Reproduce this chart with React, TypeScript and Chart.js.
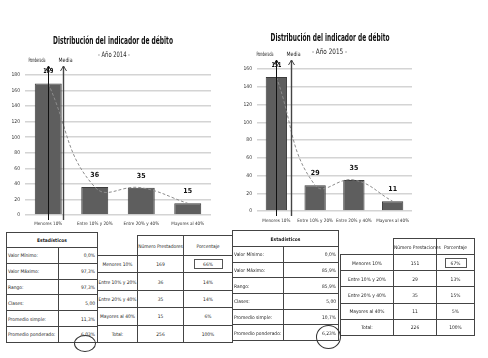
import React, { useEffect, useRef } from "react";
import { Chart, registerables } from "chart.js";

Chart.register(...registerables);

// ---------- data ----------
const categories = ["Menores 10%", "Entre 10% y 20%", "Entre 20% y 40%", "Mayores al 40%"];
const values2014 = [169, 36, 35, 15];
const values2015 = [151, 29, 35, 11];
const yMax2014 = 180;
const yMax2015 = 160;
const yStep = 20;
const chartTitle = "Distribución del indicador de débito";
const subtitle2014 = "- Año 2014 -";
const subtitle2015 = "- Año 2015 -";
const markerLabels = ["Ponderada", "Media"];
// marker positions in category-index units (0 = centre of first category)
const markers2014 = [0, 0.32];
const markers2015 = [0, 0.38];

const statsHeader = "Estadísticos";
const statLabels = ["Valor Mínimo:", "Valor Máximo:", "Rango:", "Clases:", "Promedio simple:", "Promedio ponderado:"];
const stats2014 = ["0,0%", "97,3%", "97,3%", "5,00", "11,3%", "6,03%"];
const stats2015 = ["0,0%", "85,9%", "85,9%", "5,00", "10,7%", "6,23%"];
const countHeader2014 = "Número Prestadores";
const countHeader2015 = "Número Prestaciones";
const percentHeader = "Porcentaje";
const percent2014 = ["66%", "14%", "14%", "6%"];
const percent2015 = ["67%", "13%", "15%", "5%"];
const totalLabel = "Total:";
const total2014 = 256;
const total2015 = 226;
const totalPercent = "100%";

const FONT = "'Liberation Sans Narrow', 'DejaVu Sans Condensed', 'Arial Narrow', sans-serif";

type Geom = {
  left: number;
  width: number;
  height: number;
  padTop: number;
  padRight: number;
  yW: number;
  xH: number;
  bar: number;
  xPad: number;
  titleX: number;
  titleY: number;
  titleW: number;
  subX: number;
  subY: number;
  subW: number;
};

function drawFitted(
  ctx: CanvasRenderingContext2D,
  text: string,
  x: number,
  y: number,
  font: string,
  width: number,
  align: CanvasTextAlign
) {
  ctx.save();
  ctx.font = font;
  ctx.textAlign = align;
  ctx.textBaseline = "middle";
  const w = ctx.measureText(text).width;
  const sx = Math.min(1, width / w);
  ctx.translate(x, y);
  ctx.scale(sx, 1);
  ctx.fillText(text, 0, 0);
  ctx.restore();
}

function makeOverlay(values: number[], markers: number[], subtitle: string, geom: Geom) {
  return {
    id: "overlay",
    afterDatasetsDraw(chart: any) {
      const ctx = chart.ctx as CanvasRenderingContext2D;
      const xs = chart.scales.x;
      const area = chart.chartArea;
      const meta = chart.getDatasetMeta(1);
      ctx.save();
      // titles
      ctx.fillStyle = "#111";
      drawFitted(ctx, chartTitle, geom.titleX, geom.titleY, `bold 10px ${FONT}`, geom.titleW, "center");
      ctx.fillStyle = "#222";
      drawFitted(ctx, subtitle, geom.subX, geom.subY, `7.5px ${FONT}`, geom.subW, "center");
      // value labels
      ctx.fillStyle = "#111";
      meta.data.forEach((bar: any, i: number) => {
        drawFitted(ctx, String(values[i]), bar.x, bar.y - 12, `bold 7px ${FONT}`, 10, "center");
      });
      // markers (arrows)
      const step = xs.getPixelForValue(1) - xs.getPixelForValue(0);
      const x0 = xs.getPixelForValue(0);
      markers.forEach((m, i) => {
        const px = Math.round(x0 + m * step) + 0.5;
        const top = area.top - 9;
        const bottom = area.bottom + 5;
        ctx.strokeStyle = i === 0 ? "#111" : "#444";
        ctx.lineWidth = i === 0 ? 1 : 1.4;
        ctx.beginPath();
        ctx.moveTo(px, top);
        ctx.lineTo(px, bottom);
        ctx.stroke();
        ctx.lineWidth = 1;
        ctx.beginPath();
        ctx.moveTo(px - 3, top + 5);
        ctx.lineTo(px, top);
        ctx.lineTo(px + 3, top + 5);
        ctx.stroke();
        ctx.fillStyle = "#222";
        if (i === 0) {
          drawFitted(ctx, markerLabels[i], px - 3, area.top - 15, `6px ${FONT}`, 17, "right");
        } else {
          drawFitted(ctx, markerLabels[i], px + 2, area.top - 15, `6px ${FONT}`, 14, "center");
        }
      });
      ctx.restore();
    },
  };
}

function BarChart(props: {
  values: number[];
  yMax: number;
  subtitle: string;
  markers: number[];
  geom: Geom;
}) {
  const ref = useRef<HTMLCanvasElement | null>(null);
  const { values, yMax, subtitle, markers, geom } = props;
  useEffect(() => {
    if (!ref.current) return;
    const chart = new Chart(ref.current, {
      type: "bar",
      data: {
        labels: categories,
        datasets: [
          {
            type: "line",
            data: values,
            borderColor: "#8c8c8c",
            borderWidth: 1,
            borderDash: [3, 2],
            pointRadius: 0,
            tension: 0.45,
            fill: false,
            order: 0,
          } as any,
          {
            type: "bar",
            data: values,
            backgroundColor: "#5e5e5e",
            borderColor: "#3c3c3c",
            borderWidth: 1,
            barPercentage: geom.bar,
            categoryPercentage: 1,
            order: 1,
          } as any,
        ],
      },
      options: {
        responsive: false,
        animation: false,
        events: [],
        layout: { padding: { left: 0, right: geom.padRight, top: geom.padTop, bottom: 0 } },
        plugins: {
          legend: { display: false },
          tooltip: { enabled: false },
          title: { display: false },
        },
        scales: {
          x: {
            grid: { display: false, drawTicks: false, tickLength: 0 },
            border: { display: false },
            ticks: {
              font: { family: FONT, size: 4.6 },
              color: "#333",
              padding: geom.xPad,
              autoSkip: false,
              maxRotation: 0,
            },
            afterFit: (s: any) => {
              s.height = geom.xH;
            },
          },
          y: {
            min: 0,
            max: yMax,
            ticks: { stepSize: yStep, font: { family: FONT, size: 5 }, color: "#333", padding: 5 },
            grid: { color: "#d4d4d4", lineWidth: 1.5, drawTicks: false, tickLength: 0 },
            border: { display: false },
            afterFit: (s: any) => {
              s.width = geom.yW;
            },
          },
        },
      } as any,
      plugins: [makeOverlay(values, markers, subtitle, geom)],
    });
    return () => chart.destroy();
  }, []);
  return (
    <canvas
      ref={ref}
      width={geom.width}
      height={geom.height}
      style={{ position: "absolute", left: geom.left, top: 0, width: geom.width, height: geom.height }}
    />
  );
}

const cellBorder = "1px solid #444";
const TABLE_FONT = 4.9;

function StatsTable(props: {
  left: number;
  top: number;
  col1: number;
  col2: number;
  headerH: number;
  rowH: number;
  values: string[];
}) {
  const { left, top, col1, col2, headerH, rowH, values } = props;
  return (
    <table
      style={{
        position: "absolute",
        left,
        top,
        borderCollapse: "collapse",
        tableLayout: "fixed",
        width: col1 + col2,
        fontFamily: FONT,
        fontSize: TABLE_FONT,
        color: "#222",
      }}
    >
      <colgroup>
        <col style={{ width: col1 }} />
        <col style={{ width: col2 }} />
      </colgroup>
      <tbody>
        <tr style={{ height: headerH }}>
          <td colSpan={2} style={{ border: cellBorder, textAlign: "center", fontWeight: "bold", padding: 0 }}>
            {statsHeader}
          </td>
        </tr>
        {statLabels.map((l, i) => (
          <tr key={l} style={{ height: rowH }}>
            <td style={{ border: cellBorder, padding: "0 1px", whiteSpace: "nowrap", overflow: "hidden" }}>{l}</td>
            <td style={{ border: cellBorder, padding: "0 2px", textAlign: "right" }}>{values[i]}</td>
          </tr>
        ))}
      </tbody>
    </table>
  );
}

function CountTable(props: {
  left: number;
  top: number;
  cols: number[];
  headerH: number;
  rowH: number;
  countHeader: string;
  counts: number[];
  percents: string[];
  total: number;
  boxW: number;
}) {
  const { left, top, cols, headerH, rowH, countHeader, counts, percents, total, boxW } = props;
  const td = { border: cellBorder, padding: 0, textAlign: "center" as const, whiteSpace: "nowrap" as const };
  return (
    <table
      style={{
        position: "absolute",
        left,
        top,
        borderCollapse: "collapse",
        tableLayout: "fixed",
        width: cols[0] + cols[1] + cols[2],
        fontFamily: FONT,
        fontSize: TABLE_FONT,
        color: "#222",
      }}
    >
      <colgroup>
        {cols.map((c, i) => (
          <col key={i} style={{ width: c }} />
        ))}
      </colgroup>
      <tbody>
        <tr style={{ height: headerH }}>
          <td style={{ padding: 0, borderTop: "none", borderLeft: "none" }} />
          <td style={td}>{countHeader}</td>
          <td style={td}>{percentHeader}</td>
        </tr>
        {categories.map((c, i) => (
          <tr key={c} style={{ height: rowH }}>
            <td style={td}>{c}</td>
            <td style={td}>{counts[i]}</td>
            <td style={td}>
              {i === 0 ? (
                <span style={{ display: "inline-block", border: "1px solid #555", width: boxW, lineHeight: "8px" }}>
                  {percents[i]}
                </span>
              ) : (
                percents[i]
              )}
            </td>
          </tr>
        ))}
        <tr style={{ height: rowH }}>
          <td style={td}>{totalLabel}</td>
          <td style={td}>{total}</td>
          <td style={td}>{totalPercent}</td>
        </tr>
      </tbody>
    </table>
  );
}

function Ellipse(props: { cx: number; cy: number; rx: number; ry: number }) {
  const { cx, cy, rx, ry } = props;
  return (
    <div
      style={{
        position: "absolute",
        left: cx - rx,
        top: cy - ry,
        width: rx * 2,
        height: ry * 2,
        borderRadius: "50%",
        border: "1px solid #333",
        boxSizing: "border-box",
      }}
    />
  );
}

const geomLeft: Geom = {
  left: 0,
  width: 244,
  height: 232,
  padTop: 75,
  padRight: 33,
  yW: 25,
  xH: 17,
  bar: 0.58,
  xPad: 6,
  titleX: 113,
  titleY: 41.5,
  titleW: 120,
  subX: 114,
  subY: 55,
  subW: 32,
};
const geomRight: Geom = {
  left: 244,
  width: 244,
  height: 232,
  padTop: 69,
  padRight: 76,
  yW: 13,
  xH: 21,
  bar: 0.55,
  xPad: 7,
  titleX: 86,
  titleY: 38,
  titleW: 119,
  subX: 85.5,
  subY: 52,
  subW: 35,
};

export default function App() {
  return (
    <div style={{ position: "absolute", left: 0, top: 0, width: 488, height: 358, background: "#fff", overflow: "hidden" }}>
      <BarChart values={values2014} yMax={yMax2014} subtitle={subtitle2014} markers={markers2014} geom={geomLeft} />
      <BarChart values={values2015} yMax={yMax2015} subtitle={subtitle2015} markers={markers2015} geom={geomRight} />
      <StatsTable left={6} top={232} col1={52} col2={39} headerH={15} rowH={15.8} values={stats2014} />
      <CountTable
        left={97}
        top={235}
        cols={[40, 46, 49]}
        headerH={20}
        rowH={17.4}
        countHeader={countHeader2014}
        counts={values2014}
        percents={percent2014}
        total={total2014}
        boxW={27}
      />
      <StatsTable left={232} top={230} col1={51} col2={55} headerH={16} rowH={15.7} values={stats2015} />
      <CountTable
        left={340}
        top={238}
        cols={[53, 43, 38]}
        headerH={16}
        rowH={16.2}
        countHeader={countHeader2015}
        counts={values2015}
        percents={percent2015}
        total={total2015}
        boxW={20}
      />
      <Ellipse cx={84.5} cy={343} rx={11} ry={8.5} />
      <Ellipse cx={328.5} cy={337} rx={12.5} ry={12} />
    </div>
  );
}
